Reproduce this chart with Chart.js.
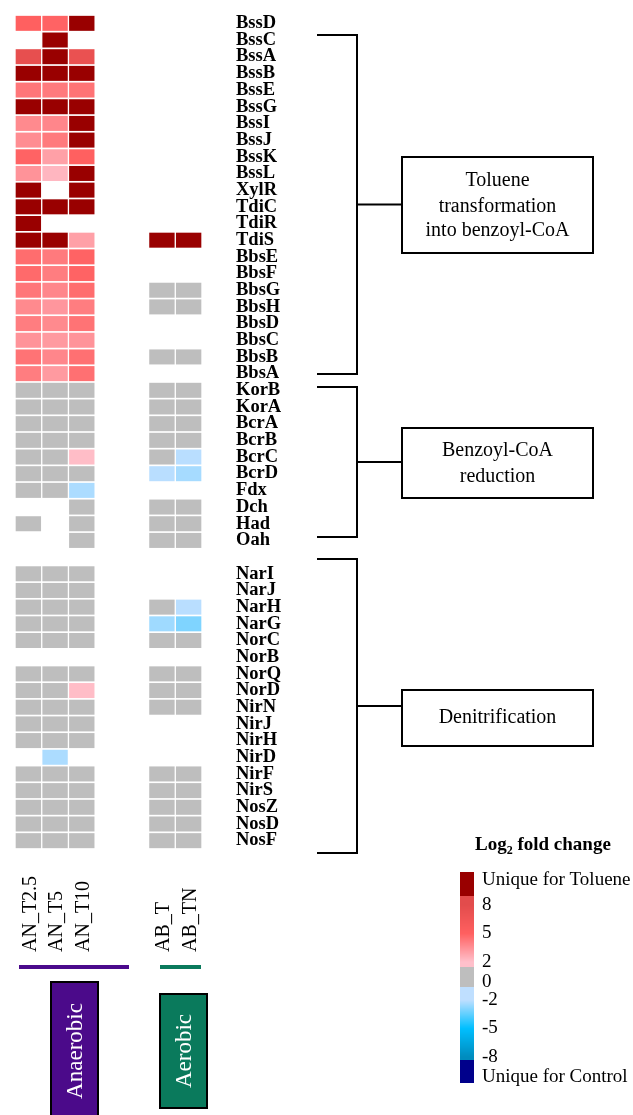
<!DOCTYPE html>
<html>
<head>
<meta charset="utf-8">
<script src="https://cdn.jsdelivr.net/npm/chart.js@4/dist/chart.umd.min.js"></script>
<style>
  html, body { margin: 0; padding: 0; background: #ffffff; }
  #wrap { position: relative; width: 633px; height: 1115px; }
</style>
</head>
<body>
<div id="wrap"><canvas id="c" width="633" height="1115"></canvas></div>
<script>
// Genes (rows, top to bottom); the empty entry separates the benzoyl-CoA and denitrification blocks
const genes = [
  'BssD','BssC','BssA','BssB','BssE','BssG','BssI','BssJ','BssK','BssL',
  'XylR','TdiC','TdiR','TdiS','BbsE','BbsF','BbsG','BbsH','BbsD','BbsC',
  'BbsB','BbsA','KorB','KorA','BcrA','BcrB','BcrC','BcrD','Fdx','Dch',
  'Had','Oah','','NarI','NarJ','NarH','NarG','NorC','NorB','NorQ',
  'NorD','NirN','NirJ','NirH','NirD','NirF','NirS','NosZ','NosD','NosF'
];

// Sample columns and their positions along the x axis
const columns = ['AN_T2.5', 'AN_T5', 'AN_T10', 'AB_T', 'AB_TN'];
const columnPos = [0, 1, 2, 5, 6];

// Log2 fold change per gene; U = unique for toluene, null = not detected
const U = 'U';
const anT25 = [5.0, null, 7.5, U, 4.3, U, 3.7, 3.6, 4.9, 3.4,
  U, U, U, U, 4.6, 4.7, 4.3, 3.7, 4.1, 3.4,
  4.4, 4.1, 0, 0, 0, 0, 0, 0, 0, null,
  0, null, null, 0, 0, 0, 0, 0, null, 0,
  0, 0, 0, 0, null, 0, 0, 0, 0, 0];
const anT5 = [4.9, U, U, U, 4.2, U, 3.8, 4.2, 3.0, 2.3,
  null, U, null, U, 4.2, 4.1, 3.8, 3.3, 3.7, 3.2,
  3.8, 3.2, 0, 0, 0, 0, 0, 0, 0, null,
  null, null, null, 0, 0, 0, 0, 0, null, 0,
  0, 0, 0, 0, -2.3, 0, 0, 0, 0, 0];
const anT10 = [U, null, 7.2, U, 4.4, U, U, U, 5.0, U,
  U, U, null, 3.0, 4.9, 4.9, 4.6, 4.1, 4.4, 3.4,
  4.5, 4.5, 0, 0, 0, 0, 2.1, 0, -2.3, 0,
  0, 0, null, 0, 0, 0, 0, 0, null, 0,
  2.1, 0, 0, 0, null, 0, 0, 0, 0, 0];
const abT = [null, null, null, null, null, null, null, null, null, null,
  null, null, null, U, null, null, 0, 0, null, null,
  0, null, 0, 0, 0, 0, 0, -2.1, null, 0,
  0, 0, null, null, null, 0, -2.5, 0, null, 0,
  0, 0, null, null, null, 0, 0, 0, 0, 0];
const abTN = [null, null, null, null, null, null, null, null, null, null,
  null, null, null, U, null, null, 0, 0, null, null,
  0, null, 0, 0, 0, 0, -2.1, -2.4, null, 0,
  0, 0, null, null, null, -2.1, -3.0, 0, null, 0,
  0, 0, null, null, null, 0, 0, 0, 0, 0];
const seriesValues = [anT25, anT5, anT10, abT, abTN];

// Colour key tick labels
const legendTicks = ['8', '5', '2', '0', '-2', '-5', '-8'];

// ---- colour scale ----
const UNIQUE_TOL = '#990000';
const UNIQUE_CTRL = '#00008b';
const GREY = '#bebebe';
const redStops = [[2, [255, 192, 203]], [5, [255, 96, 96]], [8, [226, 76, 76]]];
const blueStops = [[-2, [191, 223, 255]], [-5, [0, 191, 255]], [-8, [0, 140, 190]]];

function interp(stops, v) {
  for (let i = 0; i < stops.length - 1; i++) {
    const [a, ca] = stops[i], [b, cb] = stops[i + 1];
    const lo = Math.min(a, b), hi = Math.max(a, b);
    if (v >= lo && v <= hi) {
      const t = (v - a) / (b - a);
      const c = ca.map((x, k) => Math.round(x + (cb[k] - x) * t));
      return `rgb(${c[0]},${c[1]},${c[2]})`;
    }
  }
  const last = stops[Math.abs(v) < Math.abs(stops[0][0]) ? 0 : stops.length - 1][1];
  return `rgb(${last[0]},${last[1]},${last[2]})`;
}
function colorFor(v) {
  if (v === null || v === undefined) return 'rgba(0,0,0,0)';
  if (v === 'U') return UNIQUE_TOL;
  if (v === 'C') return UNIQUE_CTRL;
  if (v >= 2) return interp(redStops, Math.min(v, 8));
  if (v <= -2) return interp(blueStops, Math.max(v, -8));
  if (v > 1.5) return interp(redStops, 2);
  if (v < -1.5) return interp(blueStops, -2);
  return GREY;
}

const datasets = seriesValues.map((vals, i) => ({
  label: columns[i],
  data: vals.map(v => v === null ? null : [columnPos[i] - 0.475, columnPos[i] + 0.475]),
  backgroundColor: vals.map(colorFor),
  borderWidth: 0,
  grouped: false,
  barPercentage: 0.9,
  categoryPercentage: 1.0
}));

const SERIF = "'Liberation Serif', 'DejaVu Serif', serif";

// Annotation layer: brackets, pathway boxes, sample labels, group markers and colour key
const decorations = {
  id: 'decorations',
  afterDraw(chart) {
    const ctx = chart.ctx;
    const xs = chart.scales.x;
    ctx.save();

    // pathway brackets
    ctx.strokeStyle = '#000';
    ctx.lineWidth = 2;
    const brackets = [[35, 374], [387, 537], [559, 853]];
    brackets.forEach(([t, b]) => {
      const m = (t + b) / 2;
      ctx.beginPath();
      ctx.moveTo(317, t); ctx.lineTo(357, t); ctx.lineTo(357, b); ctx.lineTo(317, b);
      ctx.moveTo(357, m); ctx.lineTo(402, m);
      ctx.stroke();
    });

    // pathway boxes
    const boxes = [
      { y0: 157, y1: 253, lines: ['Toluene', 'transformation', 'into benzoyl-CoA'], ys: [181, 207, 231] },
      { y0: 428, y1: 498, lines: ['Benzoyl-CoA', 'reduction'], ys: [451, 477] },
      { y0: 690, y1: 746, lines: ['Denitrification'], ys: [718] }
    ];
    ctx.font = `20px ${SERIF}`;
    ctx.fillStyle = '#000';
    ctx.textAlign = 'center';
    ctx.textBaseline = 'middle';
    boxes.forEach(bx => {
      ctx.fillStyle = '#fff';
      ctx.fillRect(402, bx.y0, 191, bx.y1 - bx.y0);
      ctx.strokeRect(402, bx.y0, 191, bx.y1 - bx.y0);
      ctx.fillStyle = '#000';
      bx.lines.forEach((ln, k) => ctx.fillText(ln, 497.5, bx.ys[k]));
    });

    // sample labels, rotated
    ctx.font = `20px ${SERIF}`;
    ctx.textAlign = 'left';
    columns.forEach((name, i) => {
      const x = xs.getPixelForValue(columnPos[i]) + 2;
      ctx.save();
      ctx.translate(x, 952);
      ctx.rotate(-Math.PI / 2);
      ctx.fillText(name, 0, 0);
      ctx.restore();
    });

    // group underlines
    ctx.lineWidth = 4;
    ctx.strokeStyle = '#4b0a8c';
    ctx.beginPath(); ctx.moveTo(19, 967); ctx.lineTo(129, 967); ctx.stroke();
    ctx.strokeStyle = '#0a7a5c';
    ctx.beginPath(); ctx.moveTo(160, 967); ctx.lineTo(201, 967); ctx.stroke();

    // group boxes
    const groups = [
      { x: 51, y: 982, w: 47, h: 140, fill: '#4b0a8a', text: 'Anaerobic', cy: 1051 },
      { x: 160, y: 994, w: 47, h: 114, fill: '#0a7a5c', text: 'Aerobic', cy: 1051 }
    ];
    groups.forEach(g => {
      ctx.fillStyle = g.fill;
      ctx.fillRect(g.x, g.y, g.w, g.h);
      ctx.lineWidth = 2;
      ctx.strokeStyle = '#000';
      ctx.strokeRect(g.x, g.y, g.w, g.h);
      ctx.save();
      ctx.translate(g.x + g.w / 2 + 1, g.cy);
      ctx.rotate(-Math.PI / 2);
      ctx.fillStyle = '#fff';
      ctx.font = `23px ${SERIF}`;
      ctx.textAlign = 'center';
      ctx.textBaseline = 'middle';
      ctx.fillText(g.text, 0, 0);
      ctx.restore();
    });

    // colour key title: Log2 fold change
    ctx.fillStyle = '#000';
    ctx.textBaseline = 'alphabetic';
    ctx.textAlign = 'left';
    ctx.font = `bold 19px ${SERIF}`;
    let tx = 475;
    const by = 850;
    ctx.fillText('Log', tx, by);
    tx += ctx.measureText('Log').width;
    ctx.font = `bold 12px ${SERIF}`;
    ctx.fillText('2', tx, by + 4);
    tx += ctx.measureText('2').width;
    ctx.font = `bold 19px ${SERIF}`;
    ctx.fillText(' fold change', tx, by);

    // colour key bar
    const kx = 460, kw = 14;
    const yFor = v => (v > 0 ? 905 + (8 - v) * 9.5 : v < 0 ? 1000 + (-2 - v) * 9.5 : 982);
    ctx.fillStyle = UNIQUE_TOL;
    ctx.fillRect(kx, 872, kw, 24);
    for (let y = 896; y < 967; y++) {
      const v = 8 - (y + 0.5 - 905) / 9.5;
      ctx.fillStyle = colorFor(Math.max(2, Math.min(8, v)));
      ctx.fillRect(kx, y, kw, 1);
    }
    ctx.fillStyle = GREY;
    ctx.fillRect(kx, 967, kw, 20);
    for (let y = 987; y < 1060; y++) {
      const v = -2 - (y + 0.5 - 1000) / 9.5;
      ctx.fillStyle = colorFor(Math.min(-2, Math.max(-8, v)));
      ctx.fillRect(kx, y, kw, 1);
    }
    ctx.fillStyle = UNIQUE_CTRL;
    ctx.fillRect(kx, 1060, kw, 23);

    ctx.fillStyle = '#000';
    ctx.font = `19px ${SERIF}`;
    ctx.textBaseline = 'middle';
    ctx.fillText('Unique for Toluene', 482, 880);
    legendTicks.forEach(t => ctx.fillText(t, 482, yFor(parseFloat(t))));
    ctx.fillText('Unique for Control', 482, 1077);

    ctx.restore();
  }
};

new Chart(document.getElementById('c'), {
  type: 'bar',
  data: { labels: genes, datasets },
  options: {
    indexAxis: 'y',
    responsive: false,
    animation: false,
    layout: { autoPadding: false, padding: { left: 15, top: 15, right: 0, bottom: 266 } },
    plugins: { legend: { display: false }, tooltip: { enabled: false } },
    scales: {
      x: { type: 'linear', min: -0.5, max: 6.5, display: false },
      y: {
        type: 'category',
        position: 'right',
        offset: true,
        grid: { display: false, drawTicks: false },
        border: { display: false },
        ticks: {
          autoSkip: false,
          padding: 34,
          color: '#000',
          font: { family: SERIF, size: 18.5, weight: 'bold' }
        },
        afterFit(scale) {
          scale.width = 431;
          scale.paddingTop = 0;
          scale.paddingBottom = 0;
        }
      }
    }
  },
  plugins: [decorations]
});
</script>
</body>
</html>
